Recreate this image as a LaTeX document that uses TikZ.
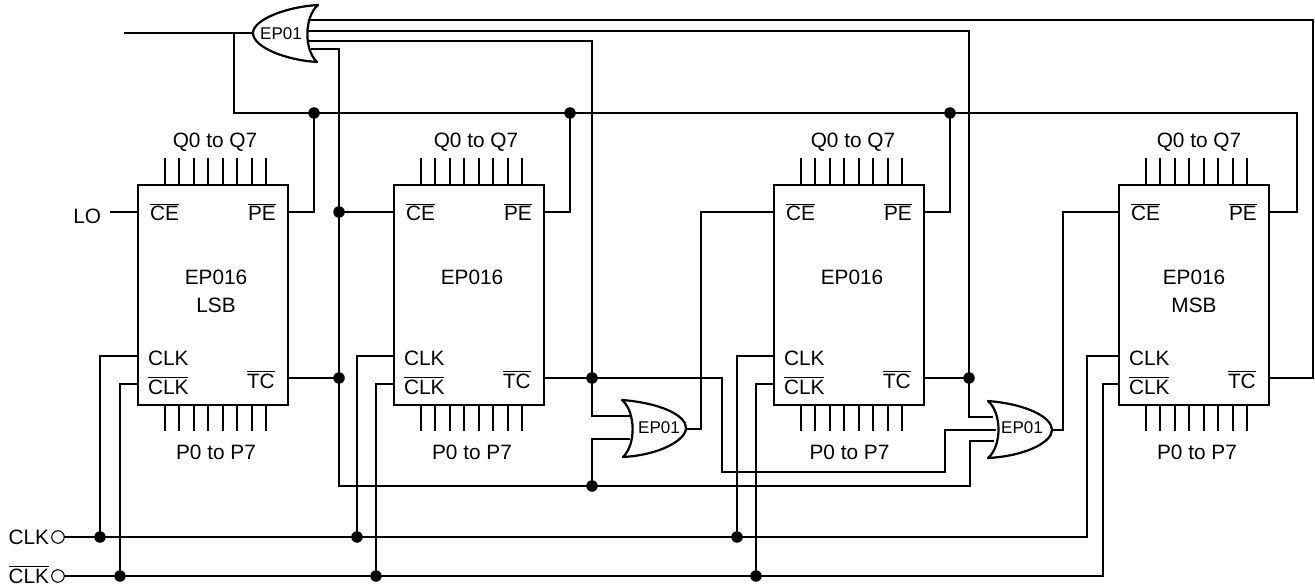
\documentclass[tikz,border=0pt]{standalone}
\usepackage{fontspec}
\setmainfont{Liberation Sans}
\newcommand\ovl[1]{\leavevmode\vbox{\hrule height 0.9pt\kern 1.6pt\hbox{#1}}}
\tikzset{
  wire/.style={line width=2pt,line join=miter,line cap=butt},
  chipbox/.style={draw,line width=2pt,rectangle,minimum width=150pt,minimum height=220pt,inner sep=0pt,outer sep=0pt},
  gateshape/.style={draw,line width=2.2pt,line join=round},
  jdot/.style={circle,fill=black,draw=none,minimum size=11.5pt,inner sep=0pt,outer sep=0pt},
  term/.style={circle,draw,fill=white,line width=1.1pt,minimum size=12.5pt,inner sep=0pt,outer sep=0pt},
  lab/.style={inner sep=0pt,outer sep=0pt,anchor=base,font=\fontsize{20.8}{24}\selectfont},
  lableft/.style={lab,anchor=base west},
  labright/.style={lab,anchor=base east},
  gatelab/.style={inner sep=0pt,outer sep=0pt,anchor=base,font=\fontsize{17}{20}\selectfont}
}
% name, left x, top label centre, bottom label centre
\newcommand\chip[4]{%
  \node[chipbox] (#1) at (#2+75,295) {};
  \foreach \i in {0,...,7}{
    \pgfmathtruncatemacro\px{#2+27+14.5*\i}
    \coordinate (#1t\i) at (\px,185);
    \coordinate (#1q\i) at (\px,158);
    \coordinate (#1b\i) at (\px,405);
    \coordinate (#1p\i) at (\px,431);
    \draw[wire] (#1t\i) -- (#1q\i);
    \draw[wire] (#1b\i) -- (#1p\i);
  }
  \node[lab] (#1Q) at (#3,148) {Q0 to Q7};
  \node[lab] (#1P) at (#4,459) {P0 to P7};
  \node[lableft] (#1CE) at (#2+12,221) {\ovl{CE}};
  \node[lableft] (#1PE) at (#2+110,221) {\ovl{PE}};
  \node[lableft] (#1CK) at (#2+10,365.5) {CLK};
  \node[lableft] (#1CB) at (#2+10,394) {\ovl{CLK}};
  \node[lableft] (#1TC) at (#2+109,388) {\ovl{TC}};
  \coordinate (#1ce) at (#2,212);
  \coordinate (#1pe) at (#2+150,212);
  \coordinate (#1ck) at (#2,356);
  \coordinate (#1cb) at (#2,384);
  \coordinate (#1tc) at (#2+150,378);
}
\begin{document}
\begin{tikzpicture}[x=1pt,y=-1pt]
\useasboundingbox (0,0) rectangle (1315,588);
\chip{a}{138}{215}{216}
\chip{b}{394}{476}{472}
\chip{c}{774}{853}{849.5}
\chip{d}{1119}{1199}{1197}
\node[lab] (aN) at (216,284.5) {EP016};
\node[lab] (aS) at (216,312.5) {LSB};
\node[lab] (bN) at (472,284.5) {EP016};
\node[lab] (cN) at (852,284.5) {EP016};
\node[lab] (dN) at (1194,284.5) {EP016};
\node[lab] (dS) at (1194,312.5) {MSB};
\node[labright] (lo) at (101,224) {LO};
\node[labright] (clkt) at (49,544) {CLK};
\node[labright] (clkbt) at (49,583) {\ovl{CLK}};
\node[term] (clkc) at (58,537) {};
\node[term] (clkbc) at (58,576) {};
% junctions
\node[jdot] (j1) at (314,113) {};
\node[jdot] (j2) at (570,113) {};
\node[jdot] (j3) at (950,113) {};
\node[jdot] (j4) at (339,212) {};
\node[jdot] (j5) at (339,378) {};
\node[jdot] (j6) at (592,378) {};
\node[jdot] (j7) at (969,378) {};
\node[jdot] (j8) at (592,486) {};
\node[jdot] (k1) at (100,537) {};
\node[jdot] (k2) at (357,537) {};
\node[jdot] (k3) at (737,537) {};
\node[jdot] (m1) at (120,576) {};
\node[jdot] (m2) at (376,576) {};
\node[jdot] (m3) at (756,576) {};
% free ends and bends
\coordinate (loend) at (110,212);
\coordinate (inL) at (124,33);
\coordinate (g1in) at (253,33);
\coordinate (pebr) at (234,33);
\coordinate (g1a) at (310,20);
\coordinate (g1b) at (308,31);
\coordinate (g1c) at (308,41);
\coordinate (g1d) at (311,49);
\coordinate (g2a) at (630,416);
\coordinate (g2b) at (630,439);
\coordinate (g2o) at (686,429);
\coordinate (g3a) at (993,417);
\coordinate (g3b) at (996,430);
\coordinate (g3c) at (994,441);
\coordinate (g3o) at (1052,430);
% wires
\draw[wire] (inL) -- (g1in);
\draw[wire] (pebr) |- (j1.center);
\draw[wire] (j1.center) -- (j2.center) -- (j3.center) -- (1297,113) -- (1297,212) -- (dpe);
\draw[wire] (ape) -| (j1.center);
\draw[wire] (bpe) -| (j2.center);
\draw[wire] (cpe) -| (j3.center);
\draw[wire] (g1a) -| (1313,378) -- (dtc);
\draw[wire] (g1b) -| (j7.center);
\draw[wire] (g1c) -| (j6.center);
\draw[wire] (g1d) -| (j4.center);
\draw[wire] (j4.center) -- (j5.center);
\draw[wire] (j5.center) |- (j8.center);
\draw[wire] (j4.center) -- (bce);
\draw[wire] (loend) -- (ace);
\draw[wire] (atc) -- (j5.center);
\draw[wire] (btc) -- (j6.center);
\draw[wire] (j6.center) -- (722,378) |- (945,472) |- (g3b);
\draw[wire] (ctc) -- (j7.center);
\draw[wire] (j6.center) |- (g2a);
\draw[wire] (j8.center) |- (g2b);
\draw[wire] (j7.center) |- (g3a);
\draw[wire] (j8.center) -- (970,486) |- (g3c);
\draw[wire] (g2o) -- (701,429) |- (cce);
\draw[wire] (g3o) -- (1063,430) |- (dce);
\draw[wire] (clkc) -- (k1.center);
\draw[wire] (k1.center) -- (k2.center) -- (k3.center) -- (1087,537) |- (dck);
\draw[wire] (clkbc) -- (m1.center);
\draw[wire] (m1.center) -- (m2.center) -- (m3.center) -- (1103,576) |- (dcb);
\draw[wire] (k1.center) |- (ack);
\draw[wire] (k2.center) |- (bck);
\draw[wire] (k3.center) |- (cck);
\draw[wire] (m1.center) |- (acb);
\draw[wire] (m2.center) |- (bcb);
\draw[wire] (m3.center) |- (ccb);
% gates
\draw[gateshape] (318,5) .. controls (285,7) and (253,20) .. (253,33) .. controls (253,47) and (285,60) .. (317,62) .. controls (304,50) and (304,17) .. cycle;
\draw[gateshape] (622,400) .. controls (660,403) and (686,415) .. (686,428) .. controls (686,440) and (660,455) .. (623,457) .. controls (636,445) and (636,412) .. cycle;
\draw[gateshape] (988,401) .. controls (1026,404) and (1052,417) .. (1052,430) .. controls (1052,442) and (1026,456) .. (988,458) .. controls (1002,446) and (1002,413) .. cycle;
\node[gatelab] (g1) at (281,40) {EP01};
\node[gatelab] (g2) at (659,433) {EP01};
\node[gatelab] (g3) at (1022,433) {EP01};
\end{tikzpicture}
\end{document}
